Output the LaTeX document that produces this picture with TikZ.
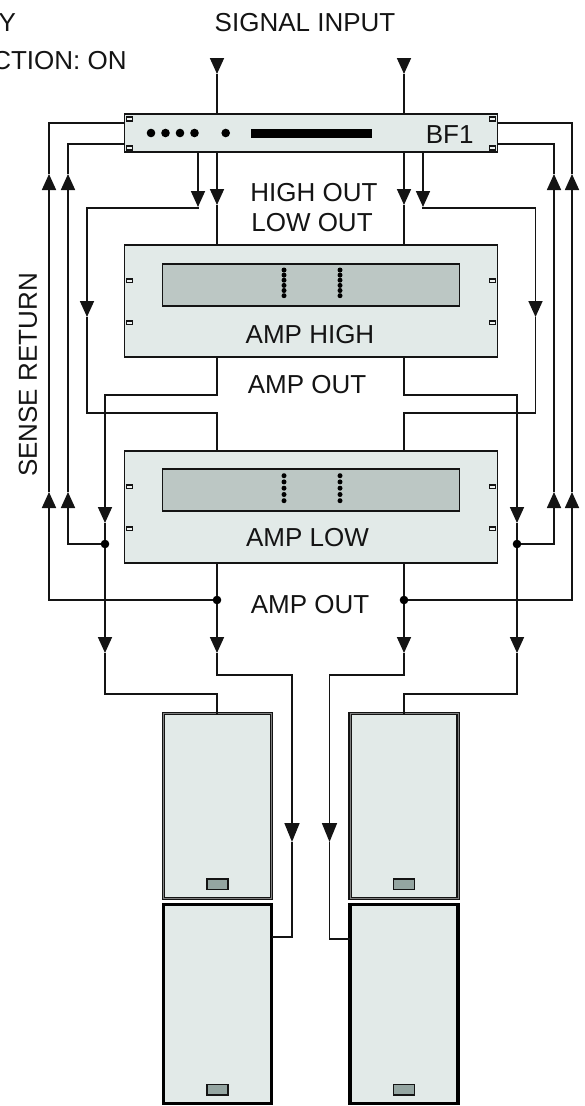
\documentclass[tikz,border=0pt]{standalone}
\usepackage{fontspec}
\setmainfont{Liberation Sans}
\usetikzlibrary{arrows.meta,positioning}
\definecolor{panel}{HTML}{E2EAE8}
\definecolor{screen}{HTML}{BCC7C4}
\definecolor{grip}{HTML}{94A5A1}
\definecolor{ink}{HTML}{141414}
\tikzset{
  rack/.style={draw=ink,fill=panel,line width=1.6pt,minimum width=373pt,inner sep=0pt,outer sep=0pt},
  screenbox/.style={draw=ink,fill=screen,line width=1.5pt,minimum width=297pt,minimum height=42pt,inner sep=0pt,outer sep=0pt},
  spk/.style={fill=panel,minimum width=108pt,inner sep=0pt,outer sep=0pt},
  spktop/.style={spk,draw=ink,line width=1.2pt,double=gray,double distance=1pt,minimum height=185pt},
  spkbot/.style={spk,draw=black,line width=3.4pt,minimum height=199pt},
  griptab/.style={draw=ink,fill=grip,line width=1.5pt,minimum width=21pt,minimum height=10.5pt,inner sep=0pt},
  ear/.style={draw=ink,fill=panel!60!white,line width=1.6pt,minimum width=6pt,minimum height=3.6pt,inner sep=0pt},
  led/.style={circle,fill=black,minimum size=8.6pt,inner sep=0pt},
  tick/.style={circle,fill=black,minimum size=5pt,inner sep=0pt},
  dot/.style={circle,fill=black,minimum size=8.6pt,inner sep=0pt,outer sep=0pt},
  lbl/.style={font=\fontsize{26}{28}\selectfont,text=ink,inner sep=0pt},
  bighead/.style={>={Triangle[length=19pt,width=15pt]}}
}
\begin{document}
\begin{tikzpicture}[x=1pt,y=-1pt,on grid,>={Triangle[length=16pt,width=14pt]},line width=1.7pt,draw=ink]
  \useasboundingbox (0,0) rectangle (585,1106);
  % racks
  \node[rack,minimum height=38pt] (bf1) at (311,133) {};
  \node[rack,minimum height=112pt,below=168pt of bf1] (amphigh) {};
  \node[rack,minimum height=112pt,below=374pt of bf1] (amplow) {};
  \node[screenbox,above=16pt of amphigh] (highscreen) {};
  \node[screenbox,above=17pt of amplow] (lowscreen) {};
  % speakers
  \node[spktop] (spktl) at (217.5,806) {};
  \node[spktop,right=186.5pt of spktl] (spktr) {};
  \node[spkbot,below=198pt of spktl] (spkbl) {};
  \node[spkbot,below=198pt of spktr] (spkbr) {};
  \node[griptab,above=8.5pt of spktl.south] (griptl) {};
  \node[griptab,above=8.5pt of spktr.south] (griptr) {};
  \node[griptab,above=8pt of spkbl.south] (gripbl) {};
  \node[griptab,above=8pt of spkbr.south] (gripbr) {};
  % front panel details
  \foreach \y in {119,148} {
    \node[ear] (bfl\y) at (129.5,\y) {};
    \node[ear] (bfr\y) at (492.5,\y) {};
  }
  \foreach \y in {280.5,322.5,486.5,528.5} {
    \node[ear] (ampl\y) at (129.5,\y) {};
    \node[ear] (ampr\y) at (492.5,\y) {};
  }
  \foreach \x in {151,165.5,180,194.5,225.7} \node[led] (led\x) at (\x,133) {};
  \node[fill=black,minimum width=121pt,minimum height=9pt,inner sep=0pt] (bar) at (311.5,133.5) {};
  \foreach \x in {284,340} {
    \foreach \y in {270,275.1,280.2,285.4,290.5,295.7} \node[tick] (thi\x\y) at (\x,\y) {};
    \foreach \y in {475.7,481.9,488.2,494.5,500.7} \node[tick] (tlo\x\y) at (\x,\y) {};
  }
  % signal input
  \coordinate (sigl) at (217,58);
  \coordinate (siglt) at (217,74);
  \coordinate (sigr) at (404,58);
  \coordinate (sigrt) at (404,74);
  \draw[->] (sigl) -- (siglt);
  \draw (siglt) -- (siglt |- bf1.north);
  \draw[->] (sigr) -- (sigrt);
  \draw (sigrt) -- (sigrt |- bf1.north);
  % high out
  \coordinate (hil) at (217,205);
  \coordinate (hir) at (404,205);
  \draw[->] (hil |- bf1.south) -- (hil);
  \draw (hil) -- (hil |- amphigh.north);
  \draw[->] (hir |- bf1.south) -- (hir);
  \draw (hir) -- (hir |- amphigh.north);
  % low out
  \coordinate (lol) at (198,207);
  \coordinate (lor) at (423,207);
  \coordinate (lolb) at (87,208);
  \coordinate (lorb) at (535.5,208);
  \coordinate (lolt) at (87,317);
  \coordinate (lort) at (535.5,317);
  \coordinate (lolf) at (217,413);
  \coordinate (lorf) at (404,413);
  \draw[->] (lol |- bf1.south) -- (lol);
  \draw[->] (lol) |- (lolb) -- (lolt);
  \draw (lolt) |- (lolf) -- (lolf |- amplow.north);
  \draw[->] (lor |- bf1.south) -- (lor);
  \draw[->] (lor) |- (lorb) -- (lort);
  \draw (lort) |- (lorf) -- (lorf |- amplow.north);
  % amp out, high
  \coordinate (hobl) at (105,395);
  \coordinate (hobr) at (517,395);
  \coordinate (holt) at (105,523);
  \coordinate (hort) at (517,523);
  \node[dot] (senl) at (105,544) {};
  \node[dot] (senr) at (517,544) {};
  \coordinate (holu) at (105,653);
  \coordinate (horu) at (517,653);
  \coordinate (feedl) at (217,694);
  \coordinate (feedr) at (404,694);
  \draw[->] (hil |- amphigh.south) |- (hobl) -- (holt);
  \draw (holt) -- (senl);
  \draw[->] (senl) -- (holu);
  \draw (holu) |- (feedl) -- (feedl |- spktl.north);
  \draw[->] (hir |- amphigh.south) |- (hobr) -- (hort);
  \draw (hort) -- (senr);
  \draw[->] (senr) -- (horu);
  \draw (horu) |- (feedr) -- (feedr |- spktr.north);
  % amp out, low
  \node[dot] (retl) at (217,600) {};
  \node[dot] (retr) at (404,600) {};
  \coordinate (lolu) at (217,653);
  \coordinate (loru) at (404,653);
  \coordinate (lobl) at (292,675);
  \coordinate (lobr) at (329.5,675);
  \coordinate (lolv) at (292,842);
  \coordinate (lorv) at (329.5,842);
  \coordinate (lolw) at (292,937);
  \coordinate (lorw) at (329.5,939);
  \draw (hil |- amplow.south) -- (retl);
  \draw[->] (retl) -- (lolu);
  \draw[->,bighead] (lolu) |- (lobl) -- (lolv);
  \draw (lolv) -- (lolw) -- (lolw -| spkbl.east);
  \draw (hir |- amplow.south) -- (retr);
  \draw[->] (retr) -- (loru);
  \draw[->,bighead] (loru) |- (lobr) -- (lorv);
  \draw (lorv) -- (lorw) -- (lorw -| spkbr.west);
  % sense return
  \coordinate (sal) at (49,492);
  \coordinate (sbl) at (68,492);
  \coordinate (sar) at (572,492);
  \coordinate (sbr) at (554,492);
  \coordinate (tal) at (49,174);
  \coordinate (tbl) at (68,174);
  \coordinate (tar) at (572,174);
  \coordinate (tbr) at (554,174);
  \coordinate (pal) at (49,123);
  \coordinate (pbl) at (68,144);
  \coordinate (par) at (572,123);
  \coordinate (pbr) at (554,144);
  \draw[->] (retl) -| (sal);
  \draw[->] (sal) -- (tal);
  \draw (tal) -- (pal) -- (pal -| bf1.west);
  \draw[->] (senl) -| (sbl);
  \draw[->] (sbl) -- (tbl);
  \draw (tbl) -- (pbl) -- (pbl -| bf1.west);
  \draw[->] (retr) -| (sar);
  \draw[->] (sar) -- (tar);
  \draw (tar) -- (par) -- (par -| bf1.east);
  \draw[->] (senr) -| (sbr);
  \draw[->] (sbr) -- (tbr);
  \draw (tbr) -- (pbr) -- (pbr -| bf1.east);
  % labels
  \node[lbl,anchor=east] (onlylbl) at (16.7,22.5) {Y};
  \node[lbl,anchor=east] (funclbl) at (127.5,61) {CTION: ON};
  \node[lbl] (siglbl) at (305,22.5) {SIGNAL INPUT};
  \node[lbl] (bflbl) at (449.7,134.5) {BF1};
  \node[lbl] (hilbl) at (314,192.5) {HIGH OUT};
  \node[lbl] (lolbl) at (312,222.6) {LOW OUT};
  \node[lbl] (ahlbl) at (310,334.5) {AMP HIGH};
  \node[lbl] (aolbl) at (307,384.7) {AMP OUT};
  \node[lbl] (allbl) at (307.5,537.5) {AMP LOW};
  \node[lbl] (a2lbl) at (310,604.5) {AMP OUT};
  \node[lbl,rotate=90] (senselbl) at (28,375) {SENSE RETURN};
\end{tikzpicture}
\end{document}
